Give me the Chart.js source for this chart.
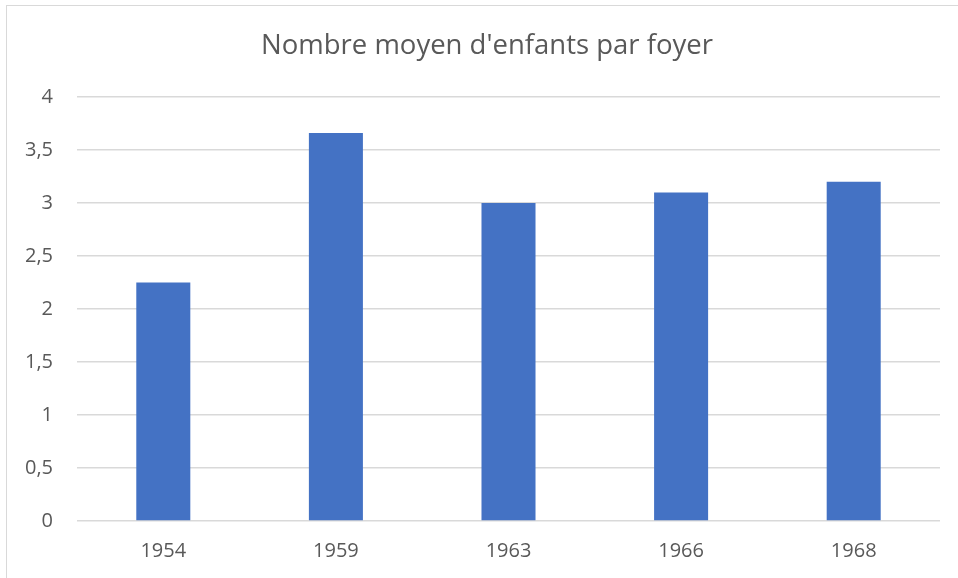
<!DOCTYPE html>
<html>
<head>
<meta charset="utf-8">
<script src="https://cdn.jsdelivr.net/npm/chart.js@4"></script>
<style>
  html, body { margin: 0; padding: 0; background: #fff; overflow: hidden; width: 958px; height: 578px; }
  #frame { position: absolute; left: 6px; top: 5px; width: 1100px; height: 700px; border: 1px solid #d9d9d9; box-sizing: border-box; }
  #c { position: absolute; left: 0; top: 0; }
</style>
</head>
<body>
<div id="frame"></div>
<canvas id="c" width="968" height="578"></canvas>
<script>
const chartTitle = "Nombre moyen d'enfants par foyer";
const categories = ["1954", "1959", "1963", "1966", "1968"];
const values = [2.25, 3.66, 3.0, 3.1, 3.2];
const yTickValues = [0, 0.5, 1, 1.5, 2, 2.5, 3, 3.5, 4];
const yTickLabels = ["0", "0,5", "1", "1,5", "2", "2,5", "3", "3,5", "4"];

const FONT = "'Open Sans', 'Noto Sans', sans-serif";
const TEXT = '#595959';

new Chart(document.getElementById('c'), {
  type: 'bar',
  data: {
    labels: categories,
    datasets: [{
      data: values,
      backgroundColor: '#4472C4',
      borderWidth: 0,
      categoryPercentage: 1,
      barPercentage: 0.313
    }]
  },
  options: {
    responsive: false,
    animation: false,
    layout: { padding: { left: 6, right: 0, top: 5, bottom: 0 } },
    plugins: {
      legend: { display: false },
      tooltip: { enabled: false },
      title: {
        display: true,
        text: chartTitle,
        color: TEXT,
        font: { family: FONT, size: 27.5, weight: 'normal', lineHeight: 1.2 },
        padding: { top: 24.5, bottom: 34.5 }
      }
    },
    scales: {
      x: {
        grid: { display: false, drawTicks: false },
        border: { display: false },
        ticks: { color: TEXT, font: { family: FONT, size: 20 }, padding: 18 },
        afterFit: s => { s.height = 57; }
      },
      y: {
        min: 0,
        max: 4,
        afterBuildTicks: s => { s.ticks = yTickValues.map(v => ({ value: v })); },
        grid: { color: '#d9d9d9', lineWidth: 1.5, drawTicks: false },
        border: { display: false },
        ticks: {
          color: TEXT,
          font: { family: FONT, size: 20 },
          padding: 24,
          callback: (v, i) => yTickLabels[i]
        },
        afterFit: s => { s.width = 71; }
      },
      yRightSpace: {
        position: 'right',
        display: true,
        min: 0,
        max: 4,
        grid: { display: false, drawTicks: false },
        border: { display: false },
        ticks: { display: false },
        afterFit: s => { s.width = 28; }
      }
    }
  }
});
</script>
</body>
</html>
